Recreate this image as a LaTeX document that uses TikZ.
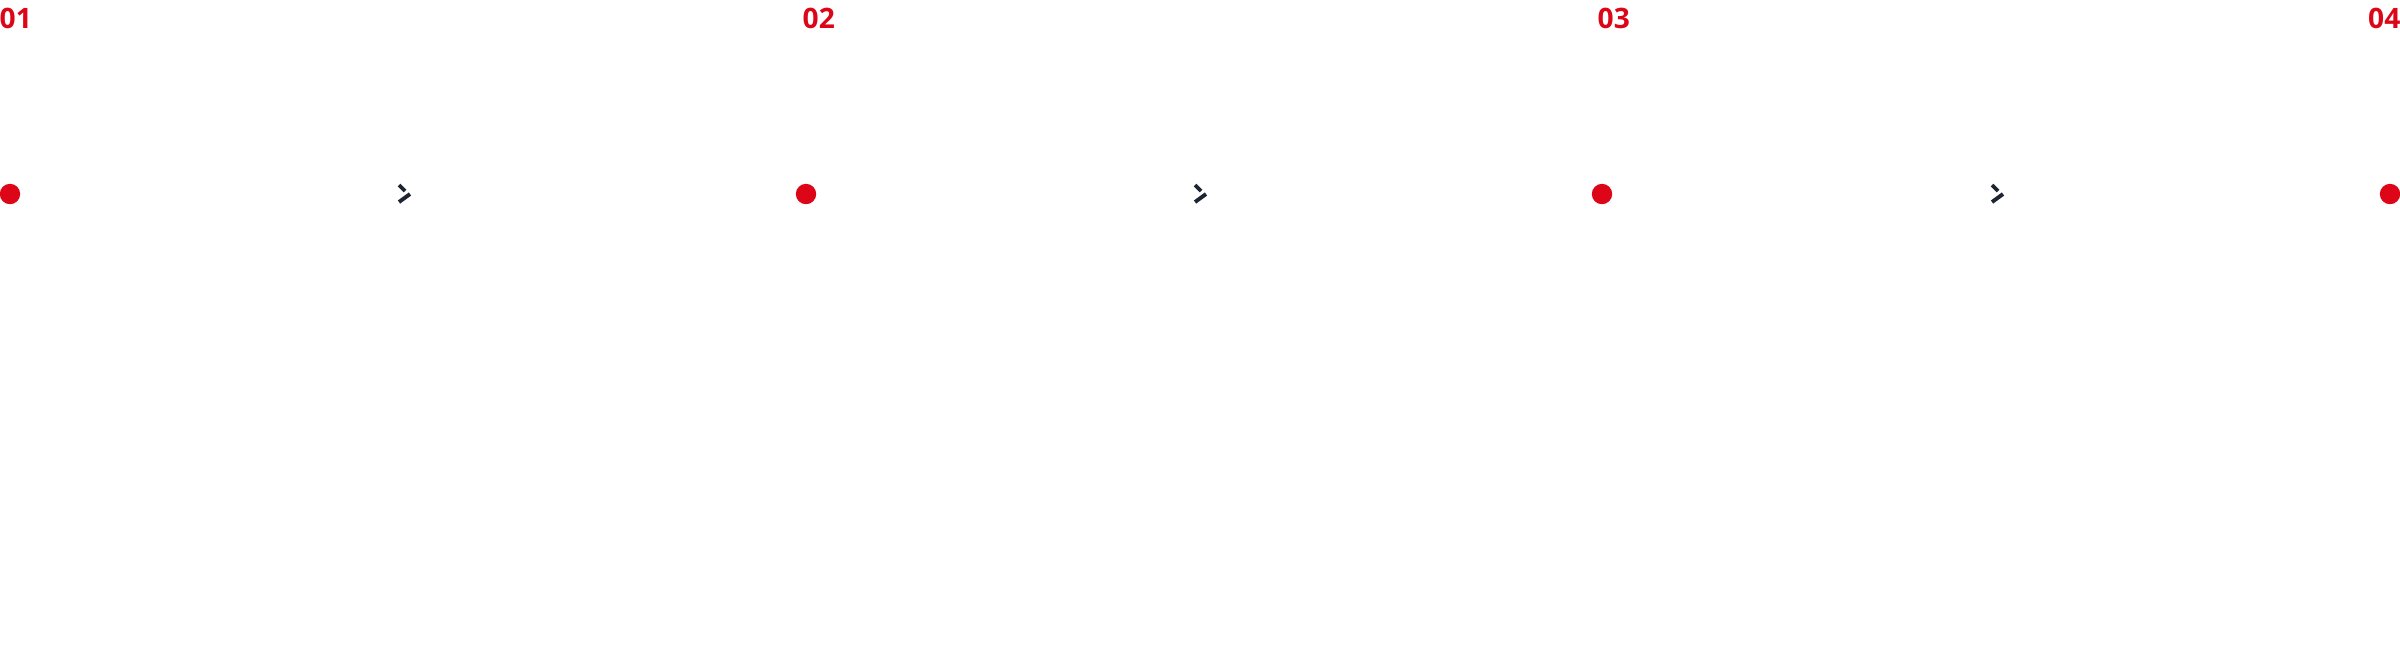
\documentclass[tikz,border=0pt]{standalone}
\usepackage{fontspec}
\setmainfont{Open Sans}
\usepackage{tikz}

\definecolor{stepred}{RGB}{220,6,24}
\definecolor{chevnavy}{RGB}{30,36,50}

\tikzset{
  steplabel/.style={inner sep=0pt, text=stepred, font=\fontsize{8}{8}\selectfont\bfseries},
  stepdot/.style={circle, fill=stepred, inner sep=0pt, minimum size=5.8pt},
  chevbox/.style={inner sep=0pt, minimum size=4pt},
  chevline/.style={draw=chevnavy, line width=1.1pt}
}

\begin{document}
\begin{tikzpicture}[x=0.01cm, y=-0.01cm]
\useasboundingbox (0,0) rectangle (2400,644);

\node[steplabel, anchor=base west] (l1) at (-1,28) {01};
\node[steplabel, anchor=base west] (l2) at (802,28) {02};
\node[steplabel, anchor=base west] (l3) at (1597,28) {03};
\node[steplabel, anchor=base east] (l4) at (2401,28) {04};

\node[stepdot] (d1) at (10,194) {};
\node[stepdot] (d2) at (806,194) {};
\node[stepdot] (d3) at (1602,194) {};
\node[stepdot] (d4) at (2390,194) {};

\node[chevbox] (c1) at (404,193) {};
\node[chevbox] (c2) at (1200,193) {};
\node[chevbox] (c3) at (1997,193) {};

        \draw[chevline] ([shift={(-5,-8)}]c1.center) -- ([shift={(1,-2)}]c1.center);
        \draw[chevline] ([shift={(6,1)}]c1.center) -- ([shift={(-5,9)}]c1.center);
        \draw[chevline] ([shift={(-5,-8)}]c2.center) -- ([shift={(1,-2)}]c2.center);
        \draw[chevline] ([shift={(6,1)}]c2.center) -- ([shift={(-5,9)}]c2.center);
        \draw[chevline] ([shift={(-5,-8)}]c3.center) -- ([shift={(1,-2)}]c3.center);
        \draw[chevline] ([shift={(6,1)}]c3.center) -- ([shift={(-5,9)}]c3.center);
        \end{tikzpicture}
\end{document}
